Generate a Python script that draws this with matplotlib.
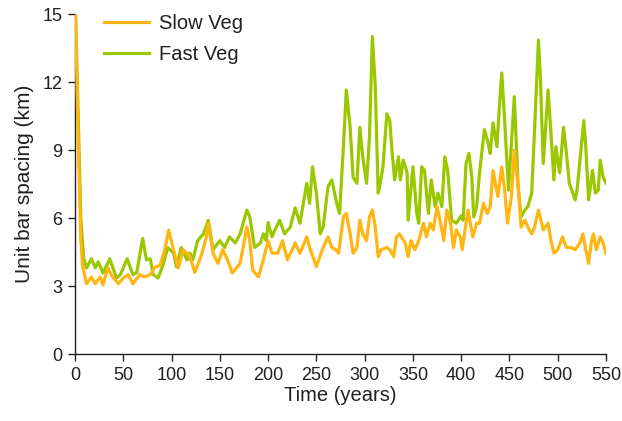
import matplotlib
matplotlib.use('Agg')
import matplotlib.pyplot as plt
import numpy as np

plt.rcParams['font.family'] = ['Liberation Sans', 'DejaVu Sans']

# Fast Veg series (years, km)
fast_t = [0, 3, 6, 9, 12, 17, 21, 24, 29, 36, 43, 47, 54, 60, 64, 70, 74, 78, 81, 86,
          91, 96, 102, 105, 110, 116, 119, 122, 127, 133, 138, 143, 150, 155, 160, 166,
          171, 178, 181, 186, 192, 195, 198, 200, 204, 207, 212, 217, 223, 228, 233, 240,
          243, 246, 250, 254, 257, 262, 266, 271, 274, 278, 281, 285, 288, 292, 295, 298,
          302, 305, 308, 311, 314, 316, 319, 323, 326, 328, 331, 335, 337, 340, 344, 345,
          349, 350, 354, 356, 359, 362, 366, 369, 373, 376, 380, 383, 386, 390, 395, 400,
          402, 405, 408, 411, 413, 416, 419, 424, 428, 430, 433, 437, 440, 442, 445, 449,
          452, 455, 459, 462, 466, 469, 473, 476, 480, 482, 485, 490, 493, 496, 498, 502,
          506, 509, 512, 518, 520, 523, 527, 529, 532, 536, 539, 542, 544, 547, 550]
fast_v = [16, 11, 6, 4.2, 3.8, 4.2, 3.8, 4.07, 3.57, 4.2, 3.35, 3.5, 4.2, 3.5, 3.6, 5.1,
          4.15, 4.2, 3.5, 3.35, 3.9, 4.7, 4.45, 3.85, 4.7, 4.15, 4.45, 4.15, 5.0, 5.3, 5.9,
          4.6, 5.0, 4.7, 5.17, 4.9, 5.3, 6.35, 6.05, 4.7, 4.9, 5.3, 5.0, 5.8, 5.17, 5.47,
          5.9, 5.3, 5.6, 6.45, 5.77, 7.53, 6.65, 8.26, 7.1, 5.3, 5.6, 7.38, 7.68, 6.65, 6.2,
          9.15, 11.65, 10.0, 7.8, 7.53, 10.0, 8.7, 7.53, 9.6, 14.0, 11.8, 7.1, 7.5, 8.26,
          10.6, 10.3, 9.15, 7.68, 8.7, 7.68, 8.55, 8.0, 5.9, 7.8, 8.26, 6.2, 5.77, 8.26, 8.1,
          6.2, 7.68, 6.5, 7.1, 6.5, 8.7, 8.1, 5.9, 5.77, 6.1, 5.9, 8.4, 8.85, 7.8, 6.05, 6.5,
          8.0, 9.9, 9.3, 8.85, 10.2, 9.15, 11.2, 12.4, 10.3, 7.23, 9.3, 11.35, 7.38, 6.05,
          6.35, 6.5, 7.1, 9.9, 13.85, 12.2, 8.4, 11.65, 9.73, 7.68, 9.15, 8.0, 10.0, 8.85,
          7.53, 6.8, 7.23, 8.55, 10.3, 9.15, 6.8, 8.1, 7.1, 7.23, 8.55, 7.8, 7.53]

# Slow Veg series (years, km)
slow_t = [0, 3, 6, 8, 12, 17, 21, 26, 29, 34, 39, 45, 50, 55, 60, 67, 72, 78, 83, 88, 93,
          97, 102, 107, 112, 119, 124, 131, 136, 138, 143, 148, 153, 158, 163, 171, 178,
          181, 184, 190, 195, 200, 204, 210, 215, 220, 228, 233, 240, 243, 250, 257, 262,
          266, 270, 273, 278, 281, 285, 288, 292, 295, 298, 302, 305, 308, 311, 314, 317,
          323, 326, 330, 333, 336, 342, 345, 348, 352, 356, 361, 364, 368, 371, 375, 378,
          382, 385, 389, 392, 395, 399, 401, 407, 412, 416, 419, 423, 427, 430, 433, 436,
          438, 442, 445, 448, 452, 455, 459, 462, 466, 469, 473, 476, 480, 485, 490, 493,
          496, 500, 505, 509, 514, 518, 523, 526, 529, 532, 535, 537, 540, 544, 547, 550]
slow_v = [16, 10, 5, 3.85, 3.1, 3.4, 3.1, 3.4, 3.05, 3.8, 3.4, 3.1, 3.35, 3.5, 3.1, 3.5,
          3.4, 3.5, 3.85, 3.9, 4.6, 5.47, 4.6, 3.8, 4.6, 4.3, 3.6, 4.37, 5.17, 5.77, 4.45,
          4.0, 4.6, 4.15, 3.57, 4.0, 5.6, 5.0, 3.7, 3.4, 4.15, 5.0, 4.45, 4.45, 5.0, 4.15,
          4.9, 4.45, 5.17, 4.7, 3.85, 4.7, 5.17, 4.7, 4.6, 4.45, 6.05, 6.2, 5.3, 4.45, 4.7,
          5.9, 5.3, 5.0, 6.05, 6.35, 5.6, 4.3, 4.6, 4.7, 4.6, 4.3, 5.17, 5.3, 4.9, 4.3, 5.0,
          4.6, 5.0, 5.77, 5.17, 5.77, 5.47, 6.5, 5.9, 5.0, 6.35, 5.77, 4.7, 5.47, 5.17, 4.6,
          6.35, 5.17, 5.77, 5.77, 6.65, 6.2, 6.5, 8.1, 7.38, 6.95, 8.26, 7.23, 5.77, 6.95,
          9.0, 7.38, 5.6, 5.9, 5.6, 5.3, 5.6, 6.35, 5.47, 5.77, 5.0, 4.45, 4.6, 5.17, 4.7,
          4.7, 4.6, 4.9, 5.3, 4.6, 4.0, 5.0, 5.3, 4.6, 5.17, 4.9, 4.45]

x_ticks = [0, 50, 100, 150, 200, 250, 300, 350, 400, 450, 500, 550]
y_ticks = [0, 3, 6, 9, 12, 15]

ink = '#231f20'
fig = plt.figure(figsize=(6.22, 4.21), dpi=100)
ax = fig.add_axes([0.1206, 0.1591, 0.8537, 0.8076])

ax.plot(slow_t, slow_v, color='#ffb612', lw=2.3, label='Slow Veg', zorder=3)
ax.plot(fast_t, fast_v, color='#99c800', lw=2.3, label='Fast Veg', zorder=2)

ax.set_xlim(0, 550)
ax.set_ylim(0, 15)
ax.set_xticks(x_ticks)
ax.set_yticks(y_ticks)
ax.spines['top'].set_visible(False)
ax.spines['right'].set_visible(False)
for s in ['left', 'bottom']:
    ax.spines[s].set_color(ink)
    ax.spines[s].set_linewidth(1.0)
ax.tick_params(direction='out', length=5, width=1, color=ink, labelcolor=ink,
               labelsize=13, pad=4)
ax.set_xlabel('Time (years)', fontsize=14.5, color=ink, labelpad=2)
ax.set_ylabel('Unit bar spacing (km)', fontsize=15, color=ink, labelpad=6)

# legend order: Slow on top, Fast below
h, l = ax.get_legend_handles_labels()
ax.legend(h, l, loc='upper left', bbox_to_anchor=(0.055, 1.0), frameon=False,
          fontsize=14.5, handlelength=2.2, handletextpad=0.5, labelspacing=0.6,
          borderpad=0, borderaxespad=0, labelcolor=ink)

fig.savefig('out.png', dpi=100)
